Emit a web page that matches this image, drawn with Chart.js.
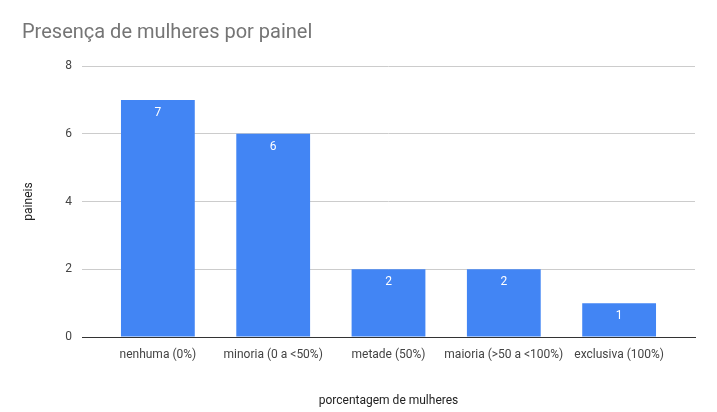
<!DOCTYPE html>
<html><head><meta charset="utf-8">
<script src="https://cdn.jsdelivr.net/npm/chart.js@4/dist/chart.umd.min.js"></script>
<style>body{margin:0;background:#fff}</style>
</head><body>
<canvas id="c" width="717" height="412"></canvas>
<script>
const TITLE = "Presença de mulheres por painel";
const categories = ["nenhuma (0%)","minoria (0 a <50%)","metade (50%)","maioria (>50 a <100%)","exclusiva (100%)"];
const paineis = [7, 6, 2, 2, 1];
const yTicks = [0, 2, 4, 6, 8];

const FONT = "Roboto, 'Noto Sans', sans-serif";

const extras = {
  id: "extras",
  afterDraw(chart){
    const { ctx } = chart;
    ctx.save();
    ctx.fillStyle = "#757575";
    ctx.font = "20px " + FONT;
    ctx.textBaseline = "middle";
    ctx.fillText(TITLE, 22, 33);
    const meta = chart.getDatasetMeta(0);
    ctx.fillStyle = "#fff";
    ctx.font = "12px " + FONT;
    ctx.textAlign = "center";
    meta.data.forEach((bar, i) => ctx.fillText(String(paineis[i]), bar.x, bar.y + 13));
    ctx.restore();
  }
};

new Chart(document.getElementById("c"), {
  type: "bar",
  data: { datasets: [{ data: paineis.map((v, i) => ({ x: i, y: v })), backgroundColor: "#4285f4", categoryPercentage: 1, barPercentage: 0.64 }] },
  options: {
    responsive: false, animation: false,
    layout: { padding: { top: 66, right: 22 } },
    plugins: { legend: { display: false }, tooltip: { enabled: false } },
    scales: {
      x: {
        type: "linear", min: -0.658, max: 4.658, offset: false,
        afterBuildTicks(s){ s.ticks = categories.map((c, i) => ({ value: i })); },
        grid: { display: false }, border: { color: "#333" },
        ticks: { color: "#444", font: { size: 12, family: FONT }, maxRotation: 0, autoSkip: false,
          callback: v => categories[v] },
        title: { display: true, text: "porcentagem de mulheres", color: "#222", font: { size: 12, family: FONT }, padding: { top: 14 } },
        afterFit(s){ s.height = 75; }
      },
      y: {
        min: 0, max: 8,
        afterBuildTicks(s){ s.ticks = yTicks.map(v => ({ value: v })); },
        grid: { color: ctx => ctx.tick && ctx.tick.value === 0 ? "#333" : "#ccc", drawTicks: false },
        border: { display: false },
        ticks: { color: "#444", font: { size: 12, family: FONT }, padding: 10 },
        title: { display: true, text: "paineis", color: "#222", font: { size: 12, family: FONT }, padding: { top: 22 } },
        afterFit(s){ s.width = 82; }
      }
    }
  },
  plugins: [extras]
});
</script>
</body></html>
